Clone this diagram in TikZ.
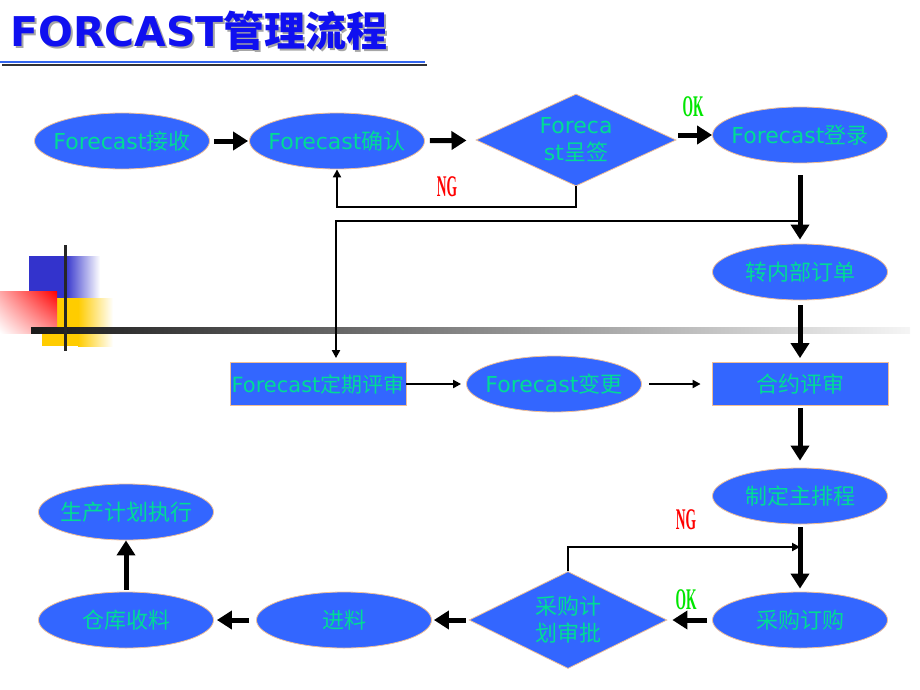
\documentclass[tikz,border=0pt]{standalone}
\usepackage{fontspec}
\setmainfont{DejaVu Sans}
\newfontfamily\cjk{Noto Sans CJK SC}
\newfontfamily\okng{Liberation Serif}
\usetikzlibrary{shapes.geometric,arrows.meta,shadings}
\definecolor{boxblue}{RGB}{51,102,255}
\definecolor{boxedge}{RGB}{240,190,150}
\definecolor{boxtext}{RGB}{0,220,150}
\definecolor{titleblue}{RGB}{16,16,240}
\definecolor{lineblue}{RGB}{51,102,238}
\definecolor{decoblue}{RGB}{51,51,204}
\definecolor{decoyellow}{RGB}{255,204,0}
\definecolor{okgreen}{RGB}{0,230,0}
\newcommand{\zh}[1]{{\cjk #1}}

\begin{document}
\begin{tikzpicture}[x=1pt,y=-1pt]
\tikzstyle{every node}+=[inner sep=0pt, text=boxtext, font=\fontsize{22}{27}\selectfont]
\tikzstyle{oval}=[ellipse, draw=boxedge, fill=boxblue, line width=0.8pt, inner xsep=-22pt, minimum width=175pt, minimum height=56pt]
\tikzstyle{box}=[rectangle, draw=boxedge, fill=boxblue, line width=0.8pt, minimum width=176pt, minimum height=43pt]
\tikzstyle{check}=[diamond, aspect=2.2, draw=boxedge, fill=boxblue, line width=0.8pt, minimum width=200pt, minimum height=92pt, align=center]
\tikzstyle{bigarrow}=[line width=5pt, -{Triangle[length=15pt,width=18pt]}]
\tikzstyle{thinarrow}=[line width=2pt, -{Triangle[length=8pt,width=8pt]}]
\tikzstyle{ng}=[text=red, font=\okng\bfseries\fontsize{30}{30}\selectfont, xscale=0.45]
\tikzstyle{ok}=[ng, text=okgreen]
\useasboundingbox (0,0) rectangle (920,690);

% title
\node[anchor=base west, text=black!35, font=\bfseries\fontsize{41}{41}\selectfont] (titleshadow) at (12,49) {FORCAST\zh{管理流程}};
\node[anchor=base west, text=titleblue, font=\bfseries\fontsize{41}{41}\selectfont] (title) at (10,47) {FORCAST\zh{管理流程}};
\draw[line width=2pt, black!80] (2,65) -- (427,65);
\draw[line width=2.5pt, lineblue] (0,62) -- (425,62);

% corner blocks
\fill[decoblue] (29,256) rectangle (65,298);
\shade[left color=decoblue, right color=white] (65,256) rectangle (100,298);
\fill[decoyellow] (42,298) rectangle (78,346);
\shade[left color=decoyellow, right color=white] (78,298) rectangle (113,346);
\shade[upper right=red, lower left=white, upper left=red!35!white, lower right=red!45!white] (0,291) rectangle (57,333);
\shade[left color=black!90, right color=black!4] (31,327) rectangle (910,333);
\draw[line width=3pt, black!85] (65,245) -- (65,351);

% nodes
\node[oval] (n1) at (122,141) {Forecast\zh{接收}};
\node[oval] (n2) at (337,141) {Forecast\zh{确认}};
\node[check] (d1) at (576,140) {Foreca\\st\zh{呈签}};
\node[oval] (n3) at (800,135) {Forecast\zh{登录}};
\node[oval] (n4) at (800,272) {\zh{转内部订单}};
\node[box, font=\fontsize{21}{25}\selectfont] (r1) at (318,384) {Forecast\zh{定期评审}};
\node[oval] (n5) at (554,384) {Forecast\zh{变更}};
\node[box] (r2) at (800,384) {\zh{合约评审}};
\node[oval] (n6) at (800,496) {\zh{制定主排程}};
\node[oval] (n7) at (800,620) {\zh{采购订购}};
\node[check, minimum width=198pt, minimum height=97pt] (d2) at (568,620) {\zh{采购计}\\\zh{划审批}};
\node[oval] (n8) at (344,620) {\zh{进料}};
\node[oval] (n9) at (126,620) {\zh{仓库收料}};
\node[oval] (n10) at (126,512) {\zh{生产计划执行}};

% labels
\node[ng] (ng1) at (447,187) {NG};
\node[ok] (ok1) at (693,107) {OK};
\node[ng] (ng2) at (686,520) {NG};
\node[ok] (ok2) at (686,600) {OK};

% main flow
\draw[bigarrow, shorten <=4pt, shorten >=1pt] (n1) -- (n2);
\draw[bigarrow, shorten <=5pt, shorten >=10pt] (n2) -- (d1);
\draw[bigarrow, shorten <=2pt] (d1.east |- n3) -- (n3);
\draw[bigarrow, shorten <=12pt, shorten >=4pt] (n3) -- (n4);
\draw[bigarrow, shorten <=5pt, shorten >=4pt] (n4) -- (r2);
\draw[bigarrow, shorten <=2pt, shorten >=7pt] (r2) -- (n6);
\draw[bigarrow, shorten <=3pt, shorten >=3pt] (n6) -- (n7);
\draw[bigarrow, shorten <=5pt, shorten >=5pt] (n7) -- (d2);
\draw[bigarrow, shorten <=3pt, shorten >=2pt] (d2) -- (n8);
\draw[bigarrow, shorten <=7pt, shorten >=3pt] (n8) -- (n9);
\draw[bigarrow, shorten <=2pt] (n9) -- (n10);
\draw[thinarrow, shorten >=5pt] (r1) -- (n5);
\draw[thinarrow, shorten <=7pt, shorten >=11pt] (n5) -- (r2);

% loops
\coordinate (ngturn) at (337,207);
\draw[thinarrow] (d1.south) |- (ngturn) -- (n2.south);
\coordinate (branch) at (800,221);
\coordinate (branchturn) at (336,221);
\draw[thinarrow, shorten >=4pt] (branch) -- (branchturn) -- (branchturn |- r1.north);
\coordinate (ngback) at (800,547);
\draw[thinarrow] (d2.north) |- (ngback);
\end{tikzpicture}
\end{document}
